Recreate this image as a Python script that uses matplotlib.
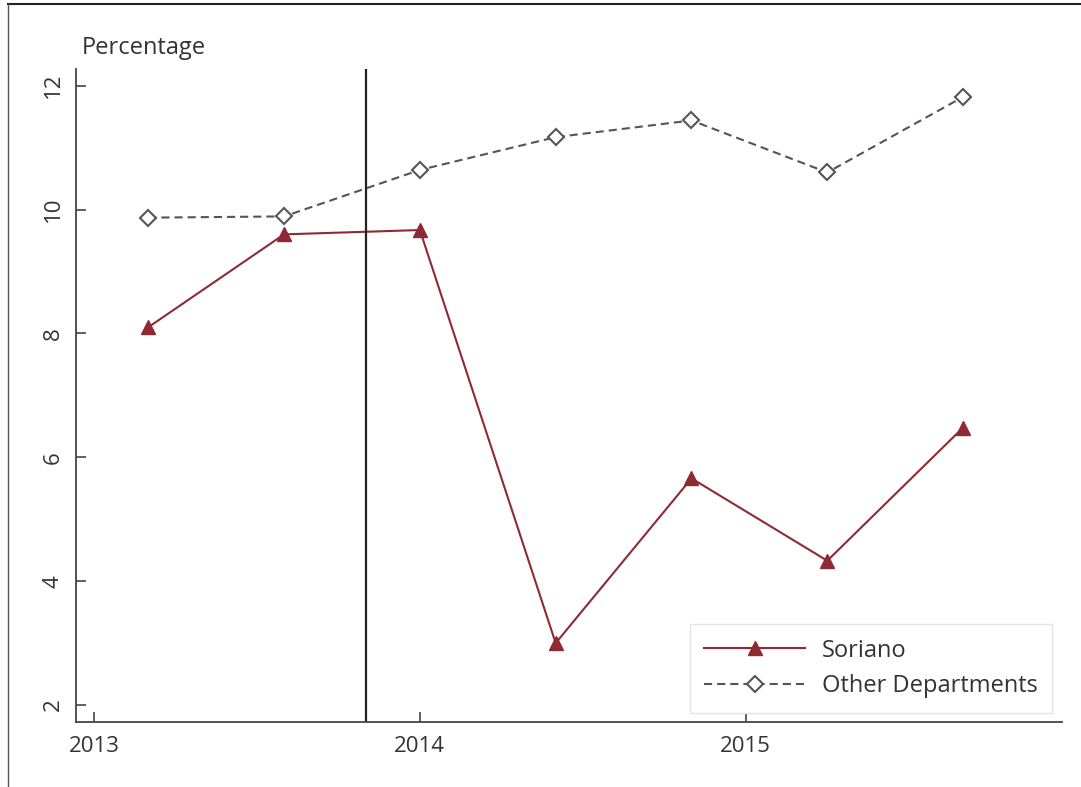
import matplotlib
matplotlib.use("Agg")
import matplotlib.pyplot as plt
from matplotlib.lines import Line2D

plt.rcParams['font.family'] = ['Open Sans', 'DejaVu Sans']

# fechas cada 5 meses (año decimal)
fechas = [2013 + 2/12, 2013 + 7/12, 2014.0, 2014 + 5/12, 2014 + 10/12, 2015 + 3/12, 2015 + 8/12]
soriano = [8.10, 9.60, 9.67, 3.00, 5.66, 4.33, 6.48]
otros = [9.87, 9.89, 10.64, 11.17, 11.44, 10.60, 11.82]
corte = 2013.834  # fecha del cambio

anios = [2013, 2014, 2015]
pct_ticks = [2, 4, 6, 8, 10, 12]

rojo = "#8e2a34"
gris = "#555555"
texto = "#333333"

fig = plt.figure(figsize=(10.81, 7.87), dpi=100)
ax = fig.add_axes([0.0703, 0.0826, 0.9121, 0.8297])

ax.plot(fechas, soriano, color=rojo, lw=1.5, marker="^", markersize=10.5,
        label="Soriano")
ax.plot(fechas, otros, color=gris, lw=1.5, dashes=(3.9, 2.4), marker="D",
        markersize=8.5, markerfacecolor="white", markeredgecolor=gris,
        markeredgewidth=1.5, label="Other Departments")
ax.axvline(corte, color="#222222", lw=1.6)

ax.set_xlim(2012.945, 2015.97)
ax.set_ylim(1.726, 12.27)
ax.set_xticks(anios)
ax.set_xticklabels([str(a) for a in anios])
ax.set_yticks(pct_ticks)
ax.set_yticklabels([str(p) for p in pct_ticks], rotation=90, va="center")

for lado in ["top", "right"]:
    ax.spines[lado].set_visible(False)
for lado in ["left", "bottom"]:
    ax.spines[lado].set_color("#444444")
    ax.spines[lado].set_linewidth(1.3)

ax.tick_params(axis="both", direction="in", length=7, width=1.2,
               color="#444444", labelsize=16, labelcolor=texto)
ax.tick_params(axis="y", pad=9)
ax.tick_params(axis="x", pad=10)

fig.text(82/1081, 1 - 48/787, "Percentage", fontsize=17, color=texto,
         ha="left", va="center")

leg = ax.legend(loc="lower right", bbox_to_anchor=(0.9898, 0.0145),
                fontsize=17, handlelength=4.3, frameon=True, fancybox=False,
                framealpha=1, edgecolor="#e3e3e3", borderpad=0.6,
                labelspacing=0.5, handletextpad=0.7, borderaxespad=0)
leg.get_frame().set_linewidth(1.0)
for t in leg.get_texts():
    t.set_color(texto)

# marco exterior
fig.add_artist(Line2D([8/1081, 1], [1 - 4/787, 1 - 4/787], color="#222222", lw=1.5))
fig.add_artist(Line2D([8/1081, 8/1081], [0, 1 - 4/787], color="#555555", lw=1.0))

fig.savefig("out.png", dpi=100)
